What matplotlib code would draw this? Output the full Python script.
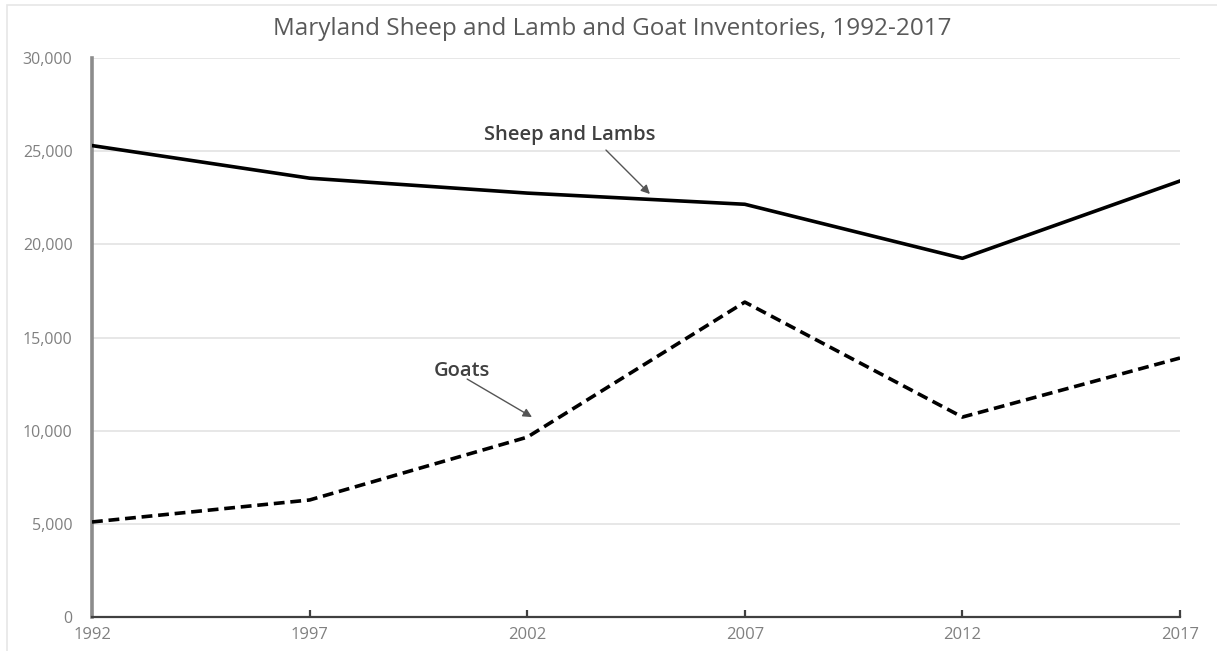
import matplotlib
matplotlib.use("Agg")
import matplotlib.pyplot as plt
from matplotlib.patches import Rectangle
from matplotlib.ticker import FuncFormatter

plt.rcParams['font.family'] = ['Open Sans', 'DejaVu Sans']

years = [1992, 1997, 2002, 2007, 2012, 2017]
sheep_lambs = [25300, 23550, 22750, 22150, 19250, 23400]
goats = [5100, 6280, 9650, 16900, 10730, 13900]
y_ticks = [0, 5000, 10000, 15000, 20000, 25000, 30000]

fig = plt.figure(figsize=(12.17, 6.51), dpi=100)
ax = fig.add_axes([92 / 1217, 1 - 617 / 651, (1180 - 92) / 1217, (617 - 58) / 651])

# outer chart frame
fig.patches.append(Rectangle((7 / 1217, -0.1), 1.2, (651 - 5) / 651 + 0.1,
                             transform=fig.transFigure, fill=False,
                             edgecolor='#e6e6e6', linewidth=1.2))

ax.plot(years, sheep_lambs, color='black', linewidth=2.6, solid_joinstyle='round', zorder=3)
ax.plot(years, goats, color='black', linewidth=2.6, linestyle=(0, (3, 1.6)), zorder=3)

ax.set_xlim(years[0], years[-1])
ax.set_ylim(0, 30000)
ax.set_xticks(years)
ax.set_yticks(y_ticks)
ax.yaxis.set_major_formatter(FuncFormatter(lambda v, p: f"{int(v):,}"))

ax.grid(axis='y', color='#e3e3e3', linewidth=1.2)
ax.set_axisbelow(True)
for s in ['top', 'right']:
    ax.spines[s].set_visible(False)
ax.spines['left'].set_color('#8c8c8c')
ax.spines['left'].set_linewidth(2.6)
ax.spines['bottom'].set_color('#404040')
ax.spines['bottom'].set_linewidth(1.6)

ax.tick_params(axis='y', length=0, pad=14, labelsize=11.5, labelcolor='#808080')
ax.tick_params(axis='x', direction='in', length=5, width=1.6, color='#404040',
               pad=7, labelsize=12, labelcolor='#808080')

fig.text(612 / 1217, 1 - 29 / 651,
         "Maryland Sheep and Lamb and Goat Inventories, 1992-2017",
         ha='center', va='center', fontsize=17.5, color='#595959')

arrow = dict(arrowstyle='-|>', color='#555555', lw=1.0,
             mutation_scale=13, shrinkA=0, shrinkB=0)

ax.text(2002.98, 25870, "Sheep and Lambs", ha='center', va='center',
        fontsize=14.5, color='#404040', fontweight='semibold')
ax.annotate("", xy=(2004.82, 22700), xytext=(2003.81, 25060), arrowprops=arrow)

ax.text(2000.50, 13200, "Goats", ha='center', va='center',
        fontsize=14.5, color='#404040', fontweight='semibold')
ax.annotate("", xy=(2002.11, 10730), xytext=(2000.62, 12770), arrowprops=arrow)

fig.savefig("out.png", dpi=100, facecolor='white')
